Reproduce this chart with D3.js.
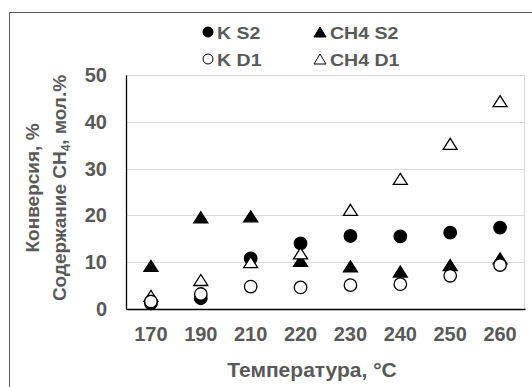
<!DOCTYPE html>
<html>
<head>
<meta charset="utf-8">
<script src="https://cdn.jsdelivr.net/npm/d3@7"></script>
<style>
  body { margin: 0; background: #fff; }
</style>
</head>
<body>
<div id="chart"></div>
<script>
// Temperatures (categories) and the four series
var temps = ['170', '190', '210', '220', '230', '240', '250', '260'];
var kS2   = [1.2, 2.3, 10.8, 14.0, 15.6, 15.5, 16.3, 17.4];
var ch4S2 = [9.2, 19.6, 19.8, 10.3, 9.1, 8.0, 9.4, 10.8];
var kD1   = [1.6, 3.2, 4.8, 4.6, 5.1, 5.3, 7.1, 9.4];
var ch4D1 = [2.8, 6.2, 10.0, 11.9, 21.2, 27.8, 35.3, 44.4];
var yTicks = [0, 10, 20, 30, 40, 50];

var width = 532, height = 387;
var margin = {top: 75, left: 126, bottom: 78, right: 7};
var font = '"Liberation Sans", Arial, sans-serif';
var grey = '#595959';

var svg = d3.select('#chart').append('svg')
    .attr('width', width)
    .attr('height', height)
    .attr('font-family', font)
    .attr('font-weight', 'bold');

// outer frame (only left and top edges visible)
svg.append('path')
    .attr('d', 'M9.5,' + height + 'V12.5H' + width)
    .attr('fill', 'none')
    .attr('stroke', grey)
    .attr('stroke-width', 1);

var x = d3.scaleBand().domain(temps).range([margin.left, width - margin.right]);
var y = d3.scaleLinear().domain([0, 50]).range([height - margin.bottom, margin.top]);

// gridlines
svg.append('g').selectAll('line')
    .data(yTicks.slice(1))
    .enter().append('line')
    .attr('x1', margin.left).attr('x2', width - margin.right)
    .attr('y1', function(d){ return Math.round(y(d)) + 0.5; })
    .attr('y2', function(d){ return Math.round(y(d)) + 0.5; })
    .attr('stroke', '#d9d9d9').attr('stroke-width', 1);

// right plot border
svg.append('line')
    .attr('x1', width - margin.right - 0.5).attr('x2', width - margin.right - 0.5)
    .attr('y1', y(50)).attr('y2', y(0))
    .attr('stroke', '#d9d9d9');

// axes
var yAxis = svg.append('g')
    .attr('transform', 'translate(' + margin.left + ',0)')
    .call(d3.axisLeft(y).tickValues(yTicks).tickSize(0).tickPadding(19));
yAxis.select('.domain').attr('stroke', '#000').attr('stroke-width', 1.3);
yAxis.selectAll('text')
    .attr('fill', grey)
    .style('font', 'bold 20px ' + font);

var xAxis = svg.append('g')
    .attr('transform', 'translate(0,' + y(0) + ')')
    .call(d3.axisBottom(x).tickSize(0).tickPadding(17.5));
xAxis.select('.domain').attr('stroke', '#000').attr('stroke-width', 1.3);
xAxis.selectAll('text')
    .attr('fill', grey)
    .style('font', 'bold 20px ' + font);

// axis titles
svg.append('text')
    .attr('x', 312).attr('y', 377)
    .attr('text-anchor', 'middle')
    .attr('fill', grey)
    .style('font-size', '21px')
    .text('Температура, °C');

var yt = svg.append('text')
    .attr('transform', 'translate(0,188) rotate(-90)')
    .attr('text-anchor', 'middle')
    .attr('fill', grey)
    .style('font-size', '19px');
yt.append('tspan').attr('x', 0).attr('y', 39).text('Конверсия, %');
var l2 = yt.append('tspan').attr('x', 0).attr('y', 66).text('Содержание CH');
l2.append('tspan').attr('dy', 4).style('font-size', '12px').text('4');
l2.append('tspan').attr('dy', -4).text(', мол.%');

// markers
var series = [
  {name: 'K S2',   values: kS2,   shape: 'circle',   fill: '#000'},
  {name: 'CH4 S2', values: ch4S2, shape: 'triangle', fill: '#000'},
  {name: 'K D1',   values: kD1,   shape: 'circle',   fill: '#fff'},
  {name: 'CH4 D1', values: ch4D1, shape: 'triangle', fill: '#fff'}
];

function symbolPath(shape, w, h) {
  if (shape === 'circle') return d3.symbol().type(d3.symbolCircle).size(Math.PI * w * w / 4)();
  var p = d3.path();
  p.moveTo(0, -h / 2); p.lineTo(w / 2, h / 2); p.lineTo(-w / 2, h / 2); p.closePath();
  return p.toString();
}

var plotOrder = [series[1], series[0], series[3], series[2]];
plotOrder.forEach(function(s) {
  svg.append('g').selectAll('path')
    .data(s.values)
    .enter().append('path')
    .attr('d', s.shape === 'circle' ? symbolPath('circle', 12.5) : symbolPath('triangle', 14, 11))
    .attr('transform', function(d, i){
      return 'translate(' + (x(temps[i]) + x.bandwidth() / 2) + ',' + y(d) + ')';
    })
    .attr('fill', s.fill)
    .attr('stroke', '#000')
    .attr('stroke-width', 1.3);
});

// legend
var legendPos = [[208, 32], [320, 32], [208, 59], [320, 59]];
series.forEach(function(s, i) {
  var g = svg.append('g').attr('transform', 'translate(' + legendPos[i][0] + ',' + legendPos[i][1] + ')');
  g.append('path')
    .attr('d', s.shape === 'circle' ? symbolPath('circle', 10) : symbolPath('triangle', 12, 10))
    .attr('fill', s.fill)
    .attr('stroke', '#000')
    .attr('stroke-width', 1);
  g.append('text')
    .attr('transform', 'translate(' + (s.shape === 'circle' ? 9 : 10) + ',6.5) scale(1.15,1)')
    .attr('fill', grey)
    .style('font-size', '17px')
    .text(s.name);
});
</script>
</body>
</html>
